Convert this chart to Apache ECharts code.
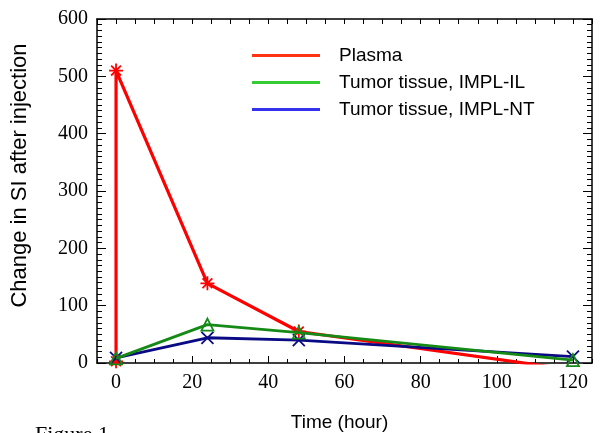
<!DOCTYPE html>
<html>
<head>
<meta charset="utf-8">
<script src="https://cdn.jsdelivr.net/npm/echarts@6/dist/echarts.min.js"></script>
<style>
    html, body { margin: 0; padding: 0; background: #fff; }
    #main { width: 608px; height: 433px; }
</style>
</head>
<body>
<div id="main"></div>
<script>
// 数据
const seriesNames = ['Plasma', 'Tumor tissue, IMPL-IL', 'Tumor tissue, IMPL-NT']
const plasmaHours = [0, 0, 24, 48, 120]
const plasmaValues = [3, 510, 139, 55, -12]
const tissueHours = [0, 24, 48, 120]
const impliValues = [8, 67, 53, 5]
const implntValues = [9, 44, 40, 11]
const xLabels = [0, 20, 40, 60, 80, 100, 120]

const pairs = (xs, ys) => xs.map((x, i) => [x, ys[i]])

const serif = 'Liberation Serif'
const sans = 'Liberation Sans'

const star = 'path://M0,-10L0,10M-10,0L10,0M-7,-7L7,7M-7,7L7,-7'
const cross = 'path://M-1,-1L1,1M-1,1L1,-1'

let element = document.querySelector('#main')
let myChart = echarts.init(element)

const boxLine = {show: true, onZero: false, lineStyle: {color: '#000', width: 1.5}}
const noLine = {show: false, onZero: false}

const xBase = {
    type: 'value',
    min: -5,
    max: 125,
    interval: 5,
    splitLine: {show: false},
}

let option = {
    animation: false,
    backgroundColor: '#fff',
    grid: {left: 97, right: 16, top: 19, bottom: 70, outerBoundsMode: 'none', containLabel: false},
    legend: {
        orient: 'vertical',
        left: 247,
        top: 41,
        icon: 'rect',
        itemWidth: 68,
        itemHeight: 3,
        itemGap: 8,
        itemStyle: {borderWidth: 0},
        textStyle: {fontFamily: sans, fontSize: 19, lineHeight: 18, color: '#000', padding: [0, 0, 0, 14]},
        data: [
            {name: seriesNames[0], itemStyle: {color: '#ff3311'}},
            {name: seriesNames[1], itemStyle: {color: '#33cc33'}},
            {name: seriesNames[2], itemStyle: {color: '#3333ee'}},
        ],
    },
    xAxis: [
        Object.assign({}, xBase, {
            position: 'bottom',
            name: 'Time (hour)',
            nameLocation: 'middle',
            nameGap: 50,
            nameTextStyle: {fontFamily: sans, fontSize: 19, color: '#000', padding: [0, 10, 0, 0]},
            axisLine: boxLine,
            axisTick: {show: true, inside: true, length: 4, lineStyle: {color: '#000', width: 1}},
            axisLabel: {
                fontFamily: serif, fontSize: 20, color: '#000', margin: 10,
                formatter: v => (v % 20 === 0 && v >= 0 && v <= 120) ? String(v) : '',
            },
        }),
        Object.assign({}, xBase, {
            position: 'bottom',
            axisLine: noLine,
            axisTick: {show: true, inside: true, length: 7, customValues: xLabels, lineStyle: {color: '#000', width: 1}},
            axisLabel: {show: false},
        }),
        Object.assign({}, xBase, {
            position: 'top',
            axisLine: boxLine,
            axisTick: {show: true, inside: true, length: 5, lineStyle: {color: '#000', width: 1}},
            axisLabel: {show: false},
        }),
    ],
    yAxis: [
        {
            type: 'value',
            position: 'left',
            min: 0,
            max: 600,
            interval: 100,
            name: 'Change in SI after injection',
            nameLocation: 'middle',
            nameGap: 66,
            nameTextStyle: {fontFamily: sans, fontSize: 22, color: '#000', padding: [0, 0, 0, 31]},
            axisLine: boxLine,
            axisTick: {show: true, inside: true, length: 9, lineStyle: {color: '#000', width: 1}},
            minorTick: {show: true, splitNumber: 10, length: 5, lineStyle: {color: '#000', width: 1}},
            axisLabel: {fontFamily: serif, fontSize: 20, color: '#000', margin: 9},
            splitLine: {show: false},
        },
        {
            type: 'value',
            position: 'right',
            min: 0,
            max: 600,
            interval: 100,
            axisLine: boxLine,
            axisTick: {show: true, inside: true, length: 9, lineStyle: {color: '#000', width: 1}},
            minorTick: {show: true, splitNumber: 10, length: 5, lineStyle: {color: '#000', width: 1}},
            axisLabel: {show: false},
            splitLine: {show: false},
        },
    ],
    series: [
        {
            name: seriesNames[0],
            type: 'line',
            data: pairs(plasmaHours, plasmaValues),
            symbol: star,
            symbolSize: 14,
            showAllSymbol: true,
            lineStyle: {color: '#ff0000', width: 3.2},
            itemStyle: {color: 'rgba(0,0,0,0)', borderColor: '#ff0000', borderWidth: 1.8},
            emphasis: {disabled: true},
            z: 2,
        },
        {
            name: seriesNames[2],
            type: 'line',
            data: pairs(tissueHours, implntValues),
            symbol: cross,
            symbolSize: 12,
            lineStyle: {color: '#0a0a85', width: 2.8},
            itemStyle: {color: 'rgba(0,0,0,0)', borderColor: '#0a0a85', borderWidth: 1.8},
            emphasis: {disabled: true},
            z: 3,
        },
        {
            name: seriesNames[1],
            type: 'line',
            data: pairs(tissueHours, impliValues),
            symbol: 'triangle',
            symbolSize: 12,
            lineStyle: {color: '#168a16', width: 2.8},
            itemStyle: {color: 'rgba(0,0,0,0)', borderColor: '#168a16', borderWidth: 1.8},
            emphasis: {disabled: true},
            z: 4,
        },
    ],
    graphic: [
        {
            type: 'text',
            left: 35,
            top: 424,
            style: {text: 'Figure 1', fontFamily: serif, fontSize: 22, fill: '#000'},
        },
    ],
}

myChart.setOption(option)
</script>
</body>
</html>
